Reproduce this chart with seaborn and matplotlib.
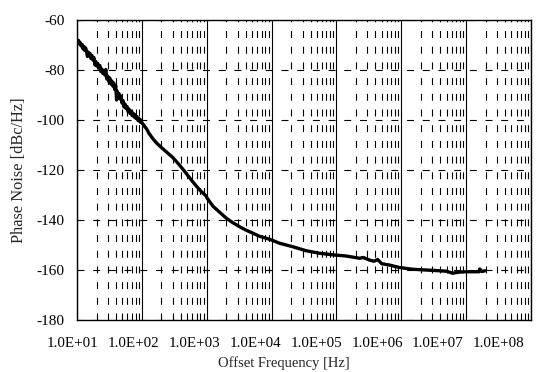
import numpy as np
import pandas as pd
import matplotlib
matplotlib.use("Agg")
import matplotlib.pyplot as plt
import matplotlib.transforms as mtransforms
import seaborn as sns
from matplotlib.ticker import LogLocator, FuncFormatter, FixedLocator

# Measured single-sideband phase noise
freq_hz = [
    10, 10.3, 10.6, 10.9, 11.2, 11.6, 12.0, 12.4, 12.8, 13.2, 13.6, 14.1, 14.5,
    14.9, 15.4, 15.9, 16.4, 17.0, 17.6, 18.2, 18.9, 19.5, 20.2, 20.9, 21.7,
    22.5, 23.3, 24.1, 25.0, 25.9, 26.8, 27.8, 28.8, 29.8, 30.9, 32.0, 33.2,
    34.4, 35.6, 36.9, 38.2, 39.5, 40.8, 41.5, 43.0, 44.5, 46.0, 47.7, 49.4,
    51.2, 53.0, 55.0, 57.0, 59.0, 61.2, 63.4, 65.7, 68.0, 70.5, 73.0, 75.7,
    78.4, 81.2, 84.2, 87.2, 90.4, 93.6, 97.0, 100, 104, 108, 112, 118, 130,
    148, 170, 210, 250, 300, 380, 488, 600, 780, 988, 1000, 1250, 1600, 2010,
    2500, 3220, 4000, 5160, 6500, 8280, 1.0e4, 1.328e4, 2.13e4, 3.42e4,
    5.47e4, 9.31e4, 1.41e5, 2.26e5, 2.6e5, 3.22e5, 3.8e5, 4.32e5, 5.0e5,
    6.53e5, 9.31e5, 1.49e6, 2.4e6, 3.84e6, 5.0e6, 6.17e6, 8.0e6, 9.9e6,
    1.3e7, 1.58e7, 1.62e7, 1.75e7, 1.96e7,
]
noise_dbc = [
    -68.0, -68.8, -68.2, -69.6, -69.0, -70.4, -69.8, -71.6, -70.6, -72.2,
    -71.2, -73.0, -74.6, -72.8, -74.2, -73.4, -75.4, -74.2, -76.0, -75.0,
    -78.0, -76.6, -78.4, -77.4, -79.2, -78.2, -80.6, -79.6, -81.4, -80.2,
    -82.0, -79.8, -83.6, -82.4, -84.6, -83.2, -85.6, -84.4, -86.4, -85.2,
    -87.8, -86.2, -92.0, -88.4, -90.6, -89.4, -91.6, -90.4, -93.2, -92.2,
    -94.8, -93.6, -95.4, -94.6, -96.6, -95.6, -97.4, -96.4, -98.2, -97.2,
    -98.8, -97.8, -99.4, -98.6, -100.2, -99.4, -100.8, -100.0, -101.2,
    -101.6, -102.2, -102.8, -103.5, -105.5, -107.5, -109.3, -111.5, -113.2,
    -115.0, -118.0, -121.5, -124.5, -128.0, -130.5, -131.0, -134.5, -137.0,
    -139.3, -141.0, -142.7, -144.0, -145.3, -146.5, -147.3, -148.0, -149.3,
    -150.7, -152.3, -153.3, -154.0, -154.4, -155.3, -155.0, -156.0, -156.5,
    -155.8, -157.5, -158.0, -159.0, -159.7, -160.0, -160.3, -160.5, -161.3,
    -160.8, -160.7, -160.7, -160.7, -159.6, -160.6, -160.3,
]

y_ticks = [-60, -80, -100, -120, -140, -160, -180]
x_decades = [1e1, 1e2, 1e3, 1e4, 1e5, 1e6, 1e7, 1e8]

df = pd.DataFrame({"Offset Frequency [Hz]": freq_hz,
                   "Phase Noise [dBc/Hz]": noise_dbc})

sns.set_theme(style="white")
plt.rcParams["font.family"] = ["Liberation Serif", "DejaVu Serif"]
plt.rcParams["lines.scale_dashes"] = False

fig = plt.figure(figsize=(5.58, 3.72), dpi=100)
ax = fig.add_axes([0.138, 0.1398, 0.8136, 0.8064])

sns.lineplot(data=df, x="Offset Frequency [Hz]", y="Phase Noise [dBc/Hz]",
             ax=ax, color="black", linewidth=2.4, estimator=None, sort=False)

ax.set_xscale("log")
ax.set_xlim(1e1, 1e8)
ax.set_ylim(-180, -60)

ax.xaxis.set_major_locator(FixedLocator(x_decades))
ax.xaxis.set_minor_locator(LogLocator(base=10, subs=np.arange(2, 10), numticks=20))
ax.xaxis.set_major_formatter(FuncFormatter(
    lambda v, pos: "1.0E+%02d" % int(round(np.log10(v)))))
ax.set_yticks(y_ticks)
ax.yaxis.set_major_formatter(FuncFormatter(lambda v, pos: "%d" % v))

dash = (0, (5.0, 6.3))
ax.grid(which="major", axis="x", color="black", linewidth=0.8, linestyle="-")
ax.grid(which="minor", axis="x", color="black", linewidth=0.8, linestyle=dash)
ax.grid(which="major", axis="y", color="black", linewidth=0.8, linestyle=dash)
ax.set_axisbelow(True)

ax.tick_params(axis="both", which="both", length=0, colors="black")
ax.tick_params(axis="y", pad=9, labelsize=11)
ax.tick_params(axis="x", pad=12, labelsize=10.8)

for s in ax.spines.values():
    s.set_color("black")
    s.set_linewidth(1.0)
    s.set_visible(True)

ax.set_xlabel("Offset Frequency [Hz]", fontsize=10.5)
ax.xaxis.set_label_coords(0.456, -0.121)
ax.set_ylabel("Phase Noise [dBc/Hz]", fontsize=11.8, labelpad=7)

# The decade labels sit on a slightly tighter pitch than the gridlines,
# drifting left by a few pixels per decade.
fig.canvas.draw()
for k, tick in enumerate(ax.xaxis.get_major_ticks()):
    shift = mtransforms.ScaledTranslation(-(4.2 + 4.0 * k) / fig.dpi, 0,
                                          fig.dpi_scale_trans)
    tick.label1.set_transform(tick.label1.get_transform() + shift)

fig.savefig("out.png", dpi=100, facecolor="white")
